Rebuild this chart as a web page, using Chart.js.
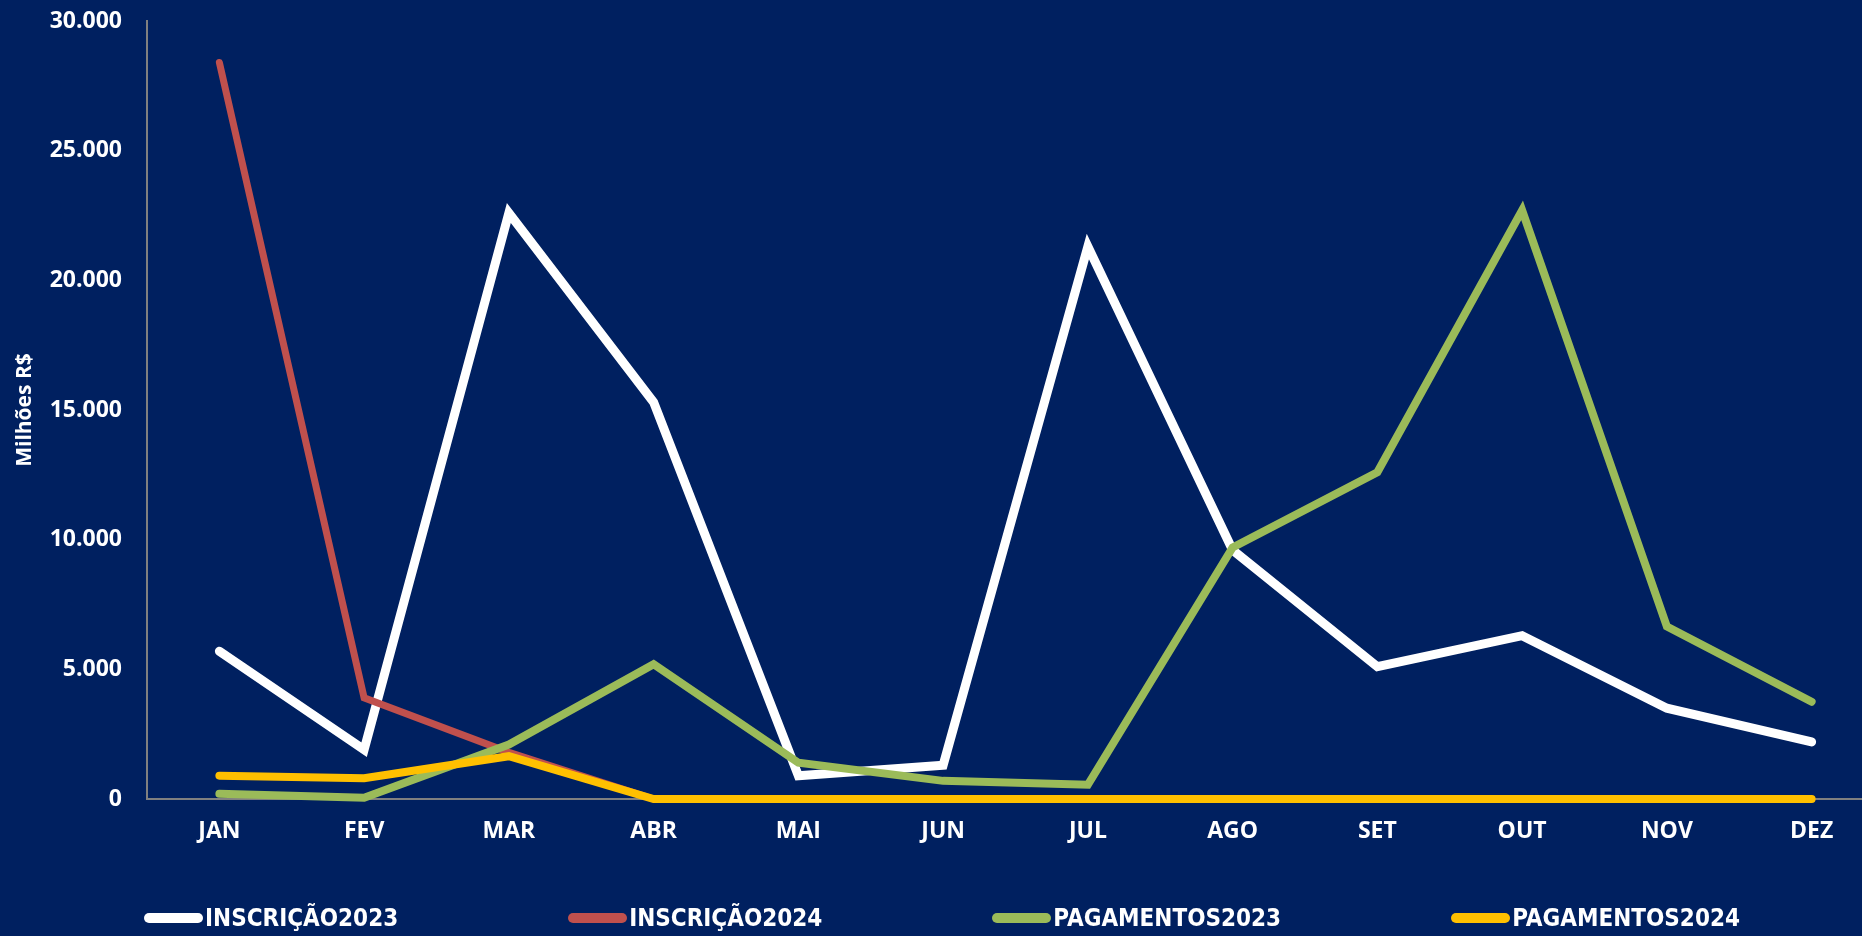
<html>
    <head>
        <meta charset="utf-8">
        <style>
            body { margin: 0; background: #002060; overflow: hidden; width: 1862px; height: 936px; position: relative; }
            #wrap { position: absolute; left: 0; top: 0; width: 1884px; height: 936px; }
            #legend { position: absolute; left: 0; top: 903px; width: 1884px; display: flex; justify-content: center; }
            .item { display: flex; align-items: center; margin: 0 85px; }
            .swatch { width: 59px; height: 10px; border-radius: 5px; margin-right: 2px; }
            .label { color: #fff; font-family: "Liberation Sans Narrow", "DejaVu Sans Condensed", "Open Sans", sans-serif; font-weight: bold; font-size: 24px; line-height: 30px; }
        </style>
    </head>
    <body>
        <!-- Chart -->
        <div id="wrap">
            <canvas id="graph" width="1884" height="936"></canvas>
        </div>
        <div id="legend"></div>
        <script src="https://cdn.jsdelivr.net/npm/chart.js@4.4.0/dist/chart.umd.min.js"></script>
        <script>
            // Months
            var months = ['JAN', 'FEV', 'MAR', 'ABR', 'MAI', 'JUN', 'JUL', 'AGO', 'SET', 'OUT', 'NOV', 'DEZ'];

            // Values in millions R$
            var inscricao2023 = [5700, 1900, 22600, 15300, 900, 1300, 21300, 9600, 5100, 6300, 3500, 2200];
            var inscricao2024 = [28400, 3900, 1800, 0, 0, 0, 0, 0, 0, 0, 0, 0];
            var pagamentos2023 = [200, 50, 2100, 5200, 1400, 700, 550, 9700, 12600, 22700, 6650, 3750];
            var pagamentos2024 = [900, 800, 1650, 0, 0, 0, 0, 0, 0, 0, 0, 0];

            var yTicks = [0, 5000, 10000, 15000, 20000, 25000, 30000];

            var tickFont = { family: '"Open Sans", sans-serif', size: 23, weight: 'bold' };

            function series(label, data, color, width, order) {
                return {
                    label: label,
                    data: data,
                    borderColor: color,
                    backgroundColor: color,
                    borderWidth: width,
                    borderCapStyle: 'round',
                    borderJoinStyle: 'miter',
                    pointRadius: 0,
                    tension: 0,
                    order: order,
                    clip: false
                };
            }

            var ctx = document.getElementById('graph').getContext('2d');
            var chart = new Chart(ctx, {
                type: 'line',
                data: {
                    labels: months,
                    datasets: [
                        series('INSCRIÇÃO2023', inscricao2023, '#ffffff', 9, 4),
                        series('INSCRIÇÃO2024', inscricao2024, '#c0504d', 7, 3),
                        series('PAGAMENTOS2023', pagamentos2023, '#9bbb59', 8, 2),
                        series('PAGAMENTOS2024', pagamentos2024, '#ffc000', 8, 1)
                    ]
                },
                options: {
                    responsive: false,
                    animation: false,
                    devicePixelRatio: 1,
                    layout: { padding: { top: 21, bottom: 77, left: 0, right: 0 } },
                    plugins: {
                        legend: { display: false },
                        tooltip: { enabled: false }
                    },
                    scales: {
                        x: {
                            offset: true,
                            grid: { display: false, drawTicks: false },
                            border: { display: true, color: '#808080', width: 2 },
                            ticks: { color: '#ffffff', font: tickFont, padding: 19, maxRotation: 0 },
                            afterFit: function (scale) { scale.height = 60; }
                        },
                        y: {
                            min: 0,
                            max: 30000,
                            grid: { display: false, drawTicks: false },
                            border: { display: true, color: '#808080', width: 2 },
                            afterBuildTicks: function (scale) {
                                scale.ticks = yTicks.map(function (v) { return { value: v }; });
                            },
                            ticks: {
                                color: '#ffffff',
                                font: tickFont,
                                padding: 25,
                                callback: function (v) { return v.toLocaleString('pt-BR'); }
                            },
                            title: {
                                display: true,
                                text: 'Milhões R$',
                                color: '#ffffff',
                                font: { family: '"Open Sans", sans-serif', size: 21, weight: 'bold' },
                                padding: { top: 12, bottom: 0 }
                            },
                            afterFit: function (scale) {
                                scale.width = 147;
                                // let the layout padding decide the top / bottom edges
                                scale.paddingTop = 0;
                                scale.paddingBottom = 0;
                            }
                        }
                    }
                }
            });

            // Legend built from the datasets
            var legend = document.getElementById('legend');
            chart.data.datasets.forEach(function (ds) {
                var item = document.createElement('div');
                item.className = 'item';
                item.innerHTML = '<div class="swatch" style="background:' + ds.borderColor + '"></div>' +
                    '<div class="label">' + ds.label + '</div>';
                legend.appendChild(item);
            });
        </script>
    </body>
</html>
